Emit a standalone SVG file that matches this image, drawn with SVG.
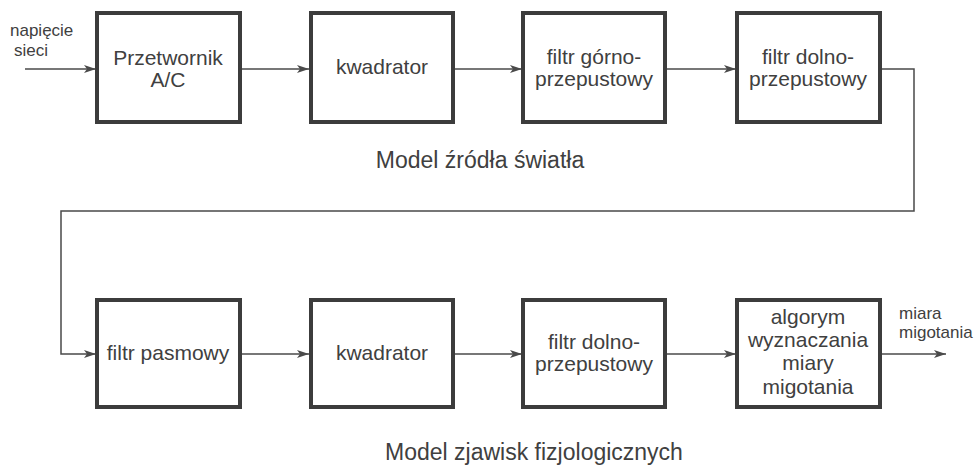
<svg xmlns="http://www.w3.org/2000/svg" width="980" height="465" viewBox="0 0 980 465">
<defs>
<marker id="ah" viewBox="0 0 12 8" refX="12" refY="4" markerWidth="12" markerHeight="8" markerUnits="userSpaceOnUse" orient="auto">
<path d="M0,0 L12,4 L0,8 L3,4 Z" fill="#4a4a4a"/>
</marker>
<style>
.box{fill:#fff;stroke:#3c3c3c;stroke-width:4}
.t{font-family:"Liberation Sans",Arial,sans-serif;font-size:21px;fill:#404040;text-anchor:middle}
.lbl{font-family:"Liberation Sans",Arial,sans-serif;font-size:17px;fill:#404040}
.title{font-family:"Liberation Sans",Arial,sans-serif;font-size:23px;fill:#404040;text-anchor:middle}
.c{fill:none;stroke:#4a4a4a;stroke-width:1.5}
</style>
</defs>
<rect width="980" height="465" fill="#fff"/>
<g id="connectors">
<path class="c" d="M25,69 H96" marker-end="url(#ah)"/>
<path class="c" d="M241,69 H309" marker-end="url(#ah)"/>
<path class="c" d="M454,69 H522" marker-end="url(#ah)"/>
<path class="c" d="M666,69 H736" marker-end="url(#ah)"/>
<path class="c" d="M881,69 H914 V211 H61 V354 H96" marker-end="url(#ah)"/>
<path class="c" d="M241,354 H309" marker-end="url(#ah)"/>
<path class="c" d="M454,354 H522" marker-end="url(#ah)"/>
<path class="c" d="M666,354 H736" marker-end="url(#ah)"/>
<path class="c" d="M881,354 H946" marker-end="url(#ah)"/>
</g>
<g id="in-label"><text class="lbl" x="10" y="36">napięcie</text><text class="lbl" x="14" y="56">sieci</text></g>
<g id="out-label"><text class="lbl" x="899" y="319">miara</text><text class="lbl" x="899" y="338">migotania</text></g>
<g id="n1"><rect class="box" x="97" y="13" width="143" height="109"/><text class="t" x="168" y="65">Przetwornik</text><text class="t" x="168" y="87">A/C</text></g>
<g id="n2"><rect class="box" x="311" y="13" width="142" height="109"/><text class="t" x="382" y="74">kwadrator</text></g>
<g id="n3"><rect class="box" x="523" y="13" width="142" height="109"/><text class="t" x="594" y="64">filtr górno-</text><text class="t" x="594" y="86">przepustowy</text></g>
<g id="n4"><rect class="box" x="737" y="13" width="143" height="109"/><text class="t" x="808" y="64">filtr dolno-</text><text class="t" x="808" y="86">przepustowy</text></g>
<text class="title" x="480" y="168">Model źródła światła</text>
<g id="n5"><rect class="box" x="97" y="300" width="143" height="107"/><text class="t" x="168" y="360">filtr pasmowy</text></g>
<g id="n6"><rect class="box" x="311" y="300" width="142" height="107"/><text class="t" x="382" y="360">kwadrator</text></g>
<g id="n7"><rect class="box" x="523" y="300" width="142" height="107"/><text class="t" x="594" y="349">filtr dolno-</text><text class="t" x="594" y="371">przepustowy</text></g>
<g id="n8"><rect class="box" x="737" y="300" width="143" height="107"/><text class="t" x="808" y="324">algorym</text><text class="t" x="808" y="347">wyznaczania</text><text class="t" x="808" y="370">miary</text><text class="t" x="808" y="394">migotania</text></g>
<text class="title" x="534" y="460">Model zjawisk fizjologicznych</text>
</svg>
